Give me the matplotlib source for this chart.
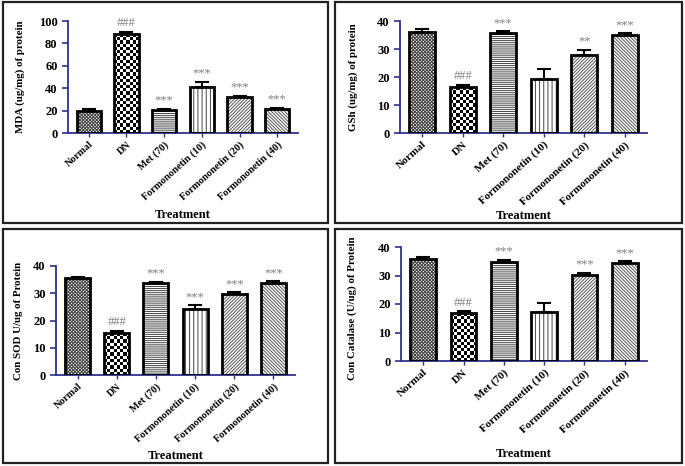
import matplotlib
matplotlib.use("Agg")
import matplotlib.pyplot as plt
import numpy as np
from matplotlib.patches import Rectangle

plt.rcParams["font.family"] = ["Liberation Serif", "DejaVu Serif"]
plt.rcParams["font.weight"] = "bold"
plt.rcParams["hatch.linewidth"] = 0.7

# %% data
groups = ["Normal", "DN", "Met (70)", "Formononetin (10)",
          "Formononetin (20)", "Formononetin (40)"]

mda_mean = [19.8, 88.0, 20.6, 40.9, 32.3, 21.5]
mda_err = [1.2, 2.6, 1.0, 4.8, 1.1, 1.2]
mda_marks = ["", "###", "***", "***", "***", "***"]

gsh_mean = [35.9, 16.4, 35.6, 19.3, 27.7, 34.9]
gsh_err = [1.4, 0.9, 0.7, 3.4, 2.1, 0.7]
gsh_marks = ["", "###", "***", "", "**", "***"]

sod_mean = [35.5, 15.4, 33.8, 24.4, 29.7, 33.6]
sod_err = [0.5, 0.9, 0.5, 1.3, 0.7, 0.8]
sod_marks = ["", "###", "***", "***", "***", "***"]

cat_mean = [35.7, 16.7, 34.9, 17.3, 30.1, 34.5]
cat_err = [0.8, 0.7, 0.7, 3.2, 0.9, 0.5]
cat_marks = ["", "###", "***", "", "***", "***"]

# None -> checkerboard
hatches = ["xxxxxxxxxx", None, "--------", "||||", "//////////",
           "\\\\\\\\\\\\\\\\\\\\"]
hatch_colors = ["#3a3a3a", "black", "#444444", "#444444", "#555555", "#555555"]

navy = "#2e3192"
W, H = 685, 466
bar_w = 0.64

fig = plt.figure(figsize=(W / 100, H / 100), dpi=100)


def px_rect(left, top, right, bottom):
    return [left / W, 1 - bottom / H, (right - left) / W, (bottom - top) / H]


def draw_panel(rect, mean, err, marks, ylabel, ymax, ystep, ylab_xy, xlab_y,
               tick_fs):
    ax = fig.add_axes(rect)
    x = np.arange(len(groups))
    ax.set_xlim(-0.55, 5.55)
    ax.set_ylim(0, ymax)

    for i in range(len(groups)):
        if hatches[i] is None:
            x0, x1 = x[i] - bar_w / 2, x[i] + bar_w / 2
            p0 = ax.transData.transform((x0, 0))
            p1 = ax.transData.transform((x1, mean[i]))
            ncol = max(1, round((p1[0] - p0[0]) / 3.2))
            nrow = max(1, round((p1[1] - p0[1]) / 3.2))
            board = np.indices((nrow, ncol)).sum(axis=0) % 2
            ax.imshow(board, cmap="gray", extent=(x0, x1, 0, mean[i]),
                      aspect="auto", interpolation="nearest", zorder=1)
        else:
            ax.bar(x[i], mean[i], width=bar_w, color="white",
                   edgecolor=hatch_colors[i], hatch=hatches[i],
                   linewidth=0, zorder=1)
    ax.set_xlim(-0.55, 5.55)
    ax.set_ylim(0, ymax)

    ax.bar(x, mean, width=bar_w, fill=False, edgecolor="black",
           linewidth=2.0, zorder=3)
    ax.errorbar(x, mean, yerr=[np.zeros(len(err)), err], fmt="none",
                ecolor="black", elinewidth=1.5, capsize=5, capthick=1.5,
                zorder=4)

    for i, m in enumerate(marks):
        if m:
            ax.annotate(m, (x[i], mean[i] + err[i]), xytext=(0, 1.5),
                        textcoords="offset points", ha="center", va="bottom",
                        fontsize=9, color="#808080", fontweight="normal")

    ax.spines[["top", "right"]].set_visible(False)
    for s in ["left", "bottom"]:
        ax.spines[s].set_color(navy)
        ax.spines[s].set_linewidth(1.3)
    ax.set_yticks(np.arange(0, ymax + 1, ystep))
    ax.tick_params(axis="y", length=4, width=1.2, color=navy, labelsize=9)
    ax.tick_params(axis="x", length=3, width=1.0, color=navy, pad=2)
    ax.set_xticks(x, groups, rotation=42, ha="right", rotation_mode="anchor",
                  fontsize=tick_fs, fontweight="bold")

    ax.set_ylabel(ylabel, fontsize=7.8, fontweight="bold")
    ax.yaxis.set_label_coords(*ylab_xy)
    ax.set_xlabel("Treatment", fontsize=9, fontweight="bold")
    ax.xaxis.set_label_coords(0.5, xlab_y)
    return ax


draw_panel(px_rect(68, 21, 298, 133), mda_mean, mda_err, mda_marks,
           "MDA (ug/mg) of protein", 100, 20, (-0.187, 0.5), -0.68, 7.3)
draw_panel(px_rect(400, 21, 647, 133), gsh_mean, gsh_err, gsh_marks,
           "GSh (ug/mg) of protein", 40, 10, (-0.17, 0.5), -0.69, 8)
draw_panel(px_rect(56, 266, 295, 375), sod_mean, sod_err, sod_marks,
           "Con SOD U/ug of Protein", 40, 10, (-0.138, 0.5), -0.69, 7.3)
draw_panel(px_rect(401, 247, 647, 361), cat_mean, cat_err, cat_marks,
           "Con Catalase (U/ug) of Protein", 40, 10, (-0.179, 0.46), -0.76, 8)

# panel frames
for left, top, right, bottom in [(3, 2, 328, 223), (335, 2, 682, 223),
                                 (3, 229, 328, 463), (335, 229, 682, 463)]:
    fig.add_artist(Rectangle((left / W, 1 - bottom / H), (right - left) / W,
                             (bottom - top) / H, transform=fig.transFigure,
                             fill=False, linewidth=1.6, edgecolor="#222222"))

fig.savefig("out.png", dpi=100)
